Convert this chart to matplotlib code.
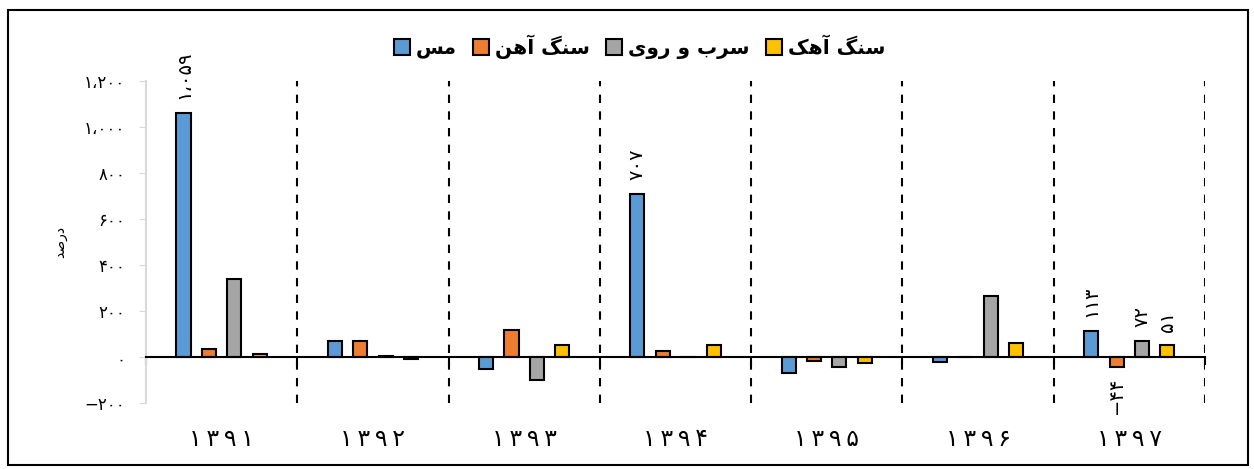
import numpy as np
import matplotlib.pyplot as plt
import matplotlib.patheffects as pe
from matplotlib.patches import Rectangle

plt.rcParams['font.family'] = ['DejaVu Sans']

years = ['1391', '1392', '1393', '1394', '1395', '1396', '1397']

# legend names, already shaped (presentation forms, visual order)
names = ['\uFEB2\uFEE3',                                   # مس
         '\uFEE6\uFEEB\uFE81 \uFB93\uFEE8\uFEB3',          # سنگ آهن
         '\uFBFC\uFEED\uFEAD \uFEED \uFE8F\uFEAE\uFEB3',   # سرب و روی
         '\uFB8F\uFEEB\uFE81 \uFB93\uFEE8\uFEB3']          # سنگ آهک
ylabel = '\uFEAA\uFEBB\uFEAD\uFEA9'                        # درصد

copper = [1059, 69, -49, 707, -69, -22, 113]
iron = [35, 69, 117, 26, -17, 1, -44]
leadzinc = [338, 5, -98, 0, -42, 267, 72]
lime = [14, -6, 55, 52, -23, 62, 51]

# which bars get a value label: (series index, year index)
labelled = [(0, 0), (0, 3), (0, 6), (1, 6), (2, 6), (3, 6)]

colors = ['#5B9BD5', '#ED7D31', '#A5A5A5', '#FFC000']

fa = str.maketrans('0123456789,-', '\u06F0\u06F1\u06F2\u06F3\u06F4\u06F5\u06F6\u06F7\u06F8\u06F9\u060C\u2212')


def persian(v):
    return '{:,}'.format(int(v)).translate(fa)


fig = plt.figure(figsize=(12.54, 4.69), dpi=100)
ax = fig.add_axes([0.1164, 0.140, 0.8445, 0.688])

series = [copper, iron, leadzinc, lime]
x = np.arange(len(years))
step = 0.168
width = 0.093
for i, vals in enumerate(series):
    ax.bar(x + (i - 1.5) * step, vals, width, color=colors[i],
           edgecolor='black', linewidth=1.5, label=names[i], zorder=3)

for i, j in labelled:
    v = series[i][j]
    xp = x[j] + (i - 1.5) * step
    if v >= 0:
        ax.annotate(persian(v), (xp, v), xytext=(0, 10), textcoords='offset points',
                    rotation=90, ha='center', va='bottom', fontsize=14)
    else:
        ax.annotate(persian(v), (xp, v), xytext=(0, -7), textcoords='offset points',
                    rotation=90, ha='center', va='top', fontsize=14)

for b in np.arange(0.5, len(years), 1):
    ax.axvline(b, color='black', linestyle=(0, (4, 4)), linewidth=1.5, zorder=1)

ax.set_xlim(-0.5, len(years) - 0.5)
ax.set_ylim(-200, 1200)
ax.set_yticks(np.arange(-200, 1201, 200))
ax.set_yticklabels([persian(v) for v in np.arange(-200, 1201, 200)], fontsize=12)

ax.set_xticks(x)
ax.set_xticklabels(['\u2009'.join(y.translate(fa)) for y in years])
ax.set_xticks(np.arange(-0.5, len(years), 1), minor=True)
ax.tick_params(axis='x', which='major', length=0, pad=50, labelsize=17)
ax.tick_params(axis='x', which='minor', length=6, width=1.5, color='black', direction='out')
ax.tick_params(axis='y', length=5, color='#D9D9D9', pad=10)
for t in ax.get_xticklabels():
    t.set_path_effects([pe.withStroke(linewidth=1.3, foreground='black')])

ax.spines['top'].set_visible(False)
ax.spines['right'].set_visible(False)
ax.spines['left'].set_color('#D9D9D9')
ax.spines['left'].set_linewidth(1.5)
ax.spines['bottom'].set_position(('data', 0))
ax.spines['bottom'].set_linewidth(1.5)
ax.spines['bottom'].set_zorder(4)

ax.set_ylabel(ylabel, fontsize=10, labelpad=12)

fig.legend(loc='center', bbox_to_anchor=(0.51, 0.90), ncol=4, frameon=False,
           prop={'weight': 'bold', 'size': 14.5}, handlelength=0.8, handleheight=0.8,
           handletextpad=0.3, columnspacing=0.8)

fig.add_artist(Rectangle((0.0065, 0.009), 0.989, 0.970, transform=fig.transFigure,
                         fill=False, edgecolor='black', linewidth=1.5))

fig.savefig('out.png', dpi=100)
